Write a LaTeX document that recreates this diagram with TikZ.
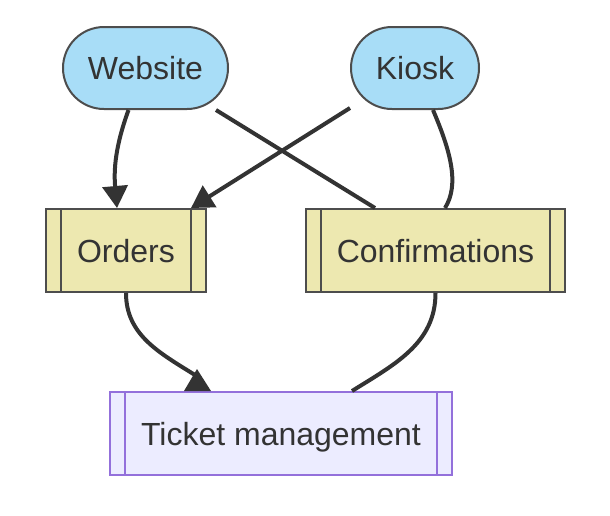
\documentclass[tikz,border=0pt]{standalone}
\usepackage{fontspec}
\setmainfont{Liberation Sans}
\usetikzlibrary{arrows.meta}
\definecolor{srcBlue}{HTML}{A8DDF7}
\definecolor{queueFill}{HTML}{EDE8B0}
\definecolor{edgeGrey}{HTML}{333333}
\definecolor{boxGrey}{HTML}{4D4D4D}
\definecolor{mgmtFill}{HTML}{ECECFF}
\definecolor{mgmtLine}{HTML}{9370DB}

\begin{document}
\begin{tikzpicture}[x=0.5pt, y=-0.5pt,
	every node/.style={font=\fontsize{16}{19}\selectfont, text=edgeGrey, text depth=0pt},
	source/.style={rectangle, rounded corners=20.5pt, draw=boxGrey, line width=1pt, fill=srcBlue, minimum height=41pt},
	queueBox/.style={rectangle, draw=boxGrey, line width=1pt, fill=queueFill, minimum height=41.5pt},
	mgmtBox/.style={rectangle, draw=mgmtLine, line width=1pt, fill=mgmtFill, minimum height=41.5pt},
	flow/.style={draw=edgeGrey, line width=2pt},
	flowArrow/.style={flow, -{Triangle[length=11pt, width=12.5pt]}}]
\useasboundingbox (0,0) rectangle (610,515);

	\node[source, minimum width=82.5pt](website) at (145.5,68){Website};
	\node[source, minimum width=64pt](kiosk) at (415,68){Kiosk};

	\node[queueBox, minimum width=80pt](orders) at (126,250.5){Orders};
	\node[queueBox, minimum width=129.5pt](confirmations) at (435.5,250.5){Confirmations};

	\node[mgmtBox, minimum width=171pt](ticket) at (281,433.5){Ticket management};

	\foreach \n/\c in {orders/boxGrey, confirmations/boxGrey, ticket/mgmtLine}
		\draw[draw=\c, line width=1pt] ([xshift=8pt]\n.north west) -- ([xshift=8pt]\n.south west) ([xshift=-8pt]\n.north east) -- ([xshift=-8pt]\n.south east);

	\draw[flowArrow] ([xshift=-8.5pt]website.south) to[out=-110, in=95] ([xshift=-4.5pt]orders.north);
	\draw[flow] ([xshift=35.25pt]website.south) -- ([xshift=-30.25pt]confirmations.north);
	\draw[flowArrow] ([yshift=1pt]kiosk.south west) -- ([xshift=-8pt]orders.north east);
	\draw[flow] ([xshift=9pt]kiosk.south) .. controls +(17,40) and +(15,-24) .. ([xshift=4.75pt]confirmations.north);

	\coordinate (ticketTip) at ([xshift=-42pt, yshift=11pt]ticket.north);
	\draw[flow] (orders.south) to[out=-90, in=148] ([xshift=-43pt, yshift=8pt]ticket.north);
	\fill[edgeGrey] (ticketTip) -- ([xshift=-48.5pt]ticket.north) -- ([xshift=-35pt]ticket.north) -- cycle;
	\draw[flow] (confirmations.south) to[out=-90, in=32] ([xshift=35.5pt]ticket.north);
\end{tikzpicture}
\end{document}
